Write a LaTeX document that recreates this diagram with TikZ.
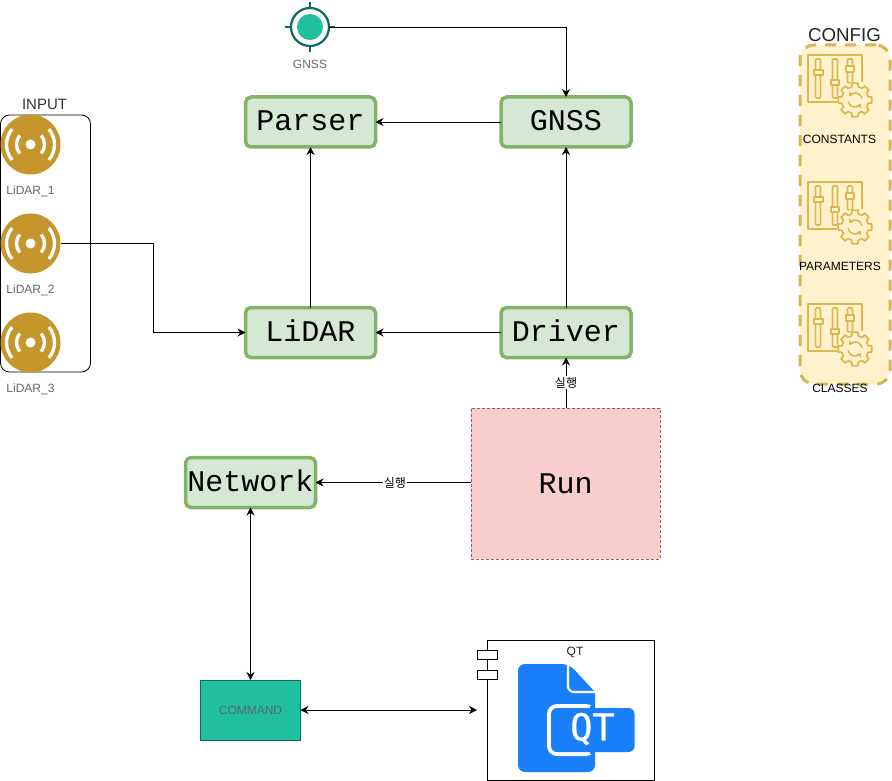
\documentclass[tikz,border=0pt]{standalone}
\usepackage{fontspec}
\setmainfont{Liberation Sans}
\setmonofont{Liberation Mono}
\newfontfamily\qtfont[FakeBold=0.6]{DejaVu Sans Mono}
\newfontfamily\krfont{Noto Sans CJK KR}
\usetikzlibrary{arrows.meta}
\definecolor{gold}{HTML}{C4962C}
\definecolor{cfgline}{HTML}{D6B656}
\definecolor{cfgfill}{HTML}{FFF2CC}
\definecolor{cfgicon}{HTML}{DDB64E}
\definecolor{boxfill}{HTML}{D5E8D4}
\definecolor{boxline}{HTML}{82B366}
\definecolor{runfill}{HTML}{F8CECC}
\definecolor{runline}{HTML}{B85450}
\definecolor{teal}{HTML}{1FBF9F}
\definecolor{darkteal}{HTML}{0B6B5F}
\definecolor{qtblue}{HTML}{1A7FFB}
\definecolor{graytxt}{HTML}{666666}
\definecolor{cmdtxt}{HTML}{566B68}
\newcommand{\fs}[1]{\fontsize{#1}{#1}\selectfont}
\tikzset{
  x=1pt,y=-1pt,
  every node/.style={inner sep=0pt,outer sep=0pt},
  flow/.style={draw=black,line width=0.9pt,-{Stealth[length=8pt,width=8pt]}},
  both/.style={draw=black,line width=0.9pt,{Stealth[length=8pt,width=8pt]}-{Stealth[length=8pt,width=8pt]}},
  greenbox/.style={draw=boxline,fill=boxfill,line width=3.5pt,rounded corners=5.5pt,minimum width=130pt,minimum height=50pt,font=\ttfamily\fs{30},text height=20pt,text depth=2pt},
  lidarnode/.style={circle,fill=gold,minimum size=60pt},
  caption/.style={font=\fs{12},text=graytxt},
  cfgtext/.style={font=\fs{12},text=black},
  runlabel/.style={fill=white,font=\krfont\fs{12},inner sep=1pt},
  pics/waves/.style={code={
    \fill[white] (0,0) circle (5);
    \draw[white,line width=3.3pt] (-40:14) arc (-40:40:14) (140:14) arc (140:220:14);
    \draw[white,line width=3.3pt] (-40:24) arc (-40:40:24) (140:24) arc (140:220:24);
  }},
  pics/sliders/.style={code={
    \begin{scope}[draw=cfgicon,line width=1.7pt,line join=round]
      \draw (54,27) -- (54,0) -- (0,0) -- (0,47) -- (29,47);
      \draw[rounded corners=1pt] (7.5,4) rectangle (12.5,43);
      \draw[fill=cfgfill] (6,15) rectangle (15,20);
      \draw[rounded corners=1pt] (24.5,4) rectangle (29.5,43);
      \draw[fill=cfgfill] (23,25) rectangle (31,30);
      \draw[rounded corners=1pt] (39.5,4) rectangle (44.5,28);
      \draw[fill=cfgfill] (38,11) rectangle (46,17);
      \fill[cfgfill] (47,45) circle (17.5);
      \begin{scope}[shift={(47,45)}]
        \foreach \a in {0,45,...,315}{
          \draw ({\a-14}:13.5) -- ({\a-10}:17) -- ({\a+10}:17) -- ({\a+14}:13.5) arc ({\a+14}:{\a+31}:13.5);
        }
        \draw[-{Straight Barb[length=2.5pt,width=4.5pt]},line width=1.5pt] (170:7) arc (170:35:7);
        \draw[-{Straight Barb[length=2.5pt,width=4.5pt]},line width=1.5pt] (-10:7) arc (-10:-145:7);
      \end{scope}
    \end{scope}
  }},
}
\begin{document}
\begin{tikzpicture}
\useasboundingbox (0,0) rectangle (892,781);
\fill[white] (0,0) rectangle (892,781);

% INPUT
\node (inputbox) [draw=black,line width=0.8pt,rounded corners=9pt,minimum width=90pt,minimum height=257pt] at (45.5,243.5) {};
\node (inputlabel) [font=\fs{15},text=black!80] at (44.5,104) {INPUT};
\node (lidar1) [lidarnode] at (30.5,144.5) {};
\node (lidar2) [lidarnode] at (30.5,243.5) {};
\node (lidar3) [lidarnode] at (30.5,342.5) {};
\pic at (lidar1) {waves};
\pic at (lidar2) {waves};
\pic at (lidar3) {waves};
\node (cap1) [caption] at (30.5,191.5) {LiDAR\_1};
\node (cap2) [caption] at (30.5,290.5) {LiDAR\_2};
\node (cap3) [caption] at (30.5,389.5) {LiDAR\_3};

% GNSS icon
\node (gnssicon) [circle,draw=darkteal,fill=white,line width=2.2pt,minimum size=38pt] at (310,27) {};
\fill[teal] (310,27) circle (13);
\draw[darkteal,line width=1.5pt] (310,2) -- (310,8) (310,46) -- (310,52) (285,27) -- (291,27) (329,27) -- (335,27);
\node (gnsscap) [caption] at (310,64.5) {GNSS};

% Green boxes
\node (parser) [greenbox] at (310.5,122) {Parser};
\node (gnss) [greenbox] at (566,122) {GNSS};
\node (lidar) [greenbox] at (310.5,332.5) {LiDAR};
\node (driver) [greenbox] at (566,332.5) {Driver};
\node (network) [greenbox] at (250.5,482.5) {Network};

% Run
\node (run) [draw=runline,fill=runfill,densely dashed,line width=0.8pt,minimum width=189pt,minimum height=151pt,font=\ttfamily\fs{30}] at (565.5,483.5) {Run};

% Command
\node (command) [draw=darkteal,fill=teal,line width=0.8pt,minimum width=100pt,minimum height=60pt,font=\fs{12},text=cmdtxt] at (250.5,710) {COMMAND};

% QT
\node (qt) [draw=black,fill=white,line width=1pt,minimum width=167pt,minimum height=140pt] at (570.5,710) {};
\node (qtport1) [draw=black,fill=white,line width=0.9pt,minimum width=20pt,minimum height=9pt] at (487,654.5) {};
\node (qtport2) [draw=black,fill=white,line width=0.9pt,minimum width=20pt,minimum height=9pt] at (487,674.5) {};
\coordinate (qtleft) at (477,710);
\node (qtlabel) [font=\fs{12},text=black!85] at (575,652.5) {QT};
\fill[qtblue,rounded corners=7pt] (518,772) -- (518,664) -- (569,664) [sharp corners] -- (595,692) [rounded corners=7pt] -- (595,772) -- cycle;
\draw[white,line width=2.2pt,rounded corners=6pt] (568,662) -- (568,692) -- (596,692);
\fill[white,rounded corners=10pt] (547,704) rectangle (596,756);
\fill[qtblue] (590,706) rectangle (595,754);
\fill[qtblue,rounded corners=6pt] (551,708) rectangle (634.5,752);
\node (qticon) [text=white,font=\qtfont\fs{37}] at (592.5,729) {QT};

% CONFIG
\node (configbox) [draw=cfgline,fill=cfgfill,line width=3pt,dash pattern=on 11pt off 9pt,rounded corners=14pt,minimum width=90pt,minimum height=339pt] at (845,214.5) {};
\node (configlabel) [font=\fs{18.7},text=black!85] at (844.5,35) {CONFIG};
\pic at (808,55) {sliders};
\pic at (808,182) {sliders};
\pic at (808,304) {sliders};
\node (cfg1) [cfgtext] at (839.5,139) {CONSTANTS};
\node (cfg2) [cfgtext] at (840,266.5) {PARAMETERS};
\node (cfg3) [cfgtext] at (840,388.5) {CLASSES};

% Connectors
\draw[flow] (gnssicon.east) -| (gnss.north);
\draw[flow] (gnss.west) -- (parser.east);
\draw[flow] (lidar.north) -- (parser.south);
\draw[flow] (driver.west) -- (lidar.east);
\draw[flow] (driver.north) -- (gnss.south);
\draw[flow] (lidar2.east) -- (153,243.5) -- (153,332.5) -- (lidar.west);
\draw[flow] (run.north -| driver.south) -- node[runlabel,pos=0.5] {실행} (driver.south);
\draw[flow] (run.west |- network.east) -- node[runlabel,pos=0.49] {실행} (network.east);
\draw[both] (network.south) -- (command.north);
\draw[both] (command.east) -- (qtleft);
\end{tikzpicture}
\end{document}
